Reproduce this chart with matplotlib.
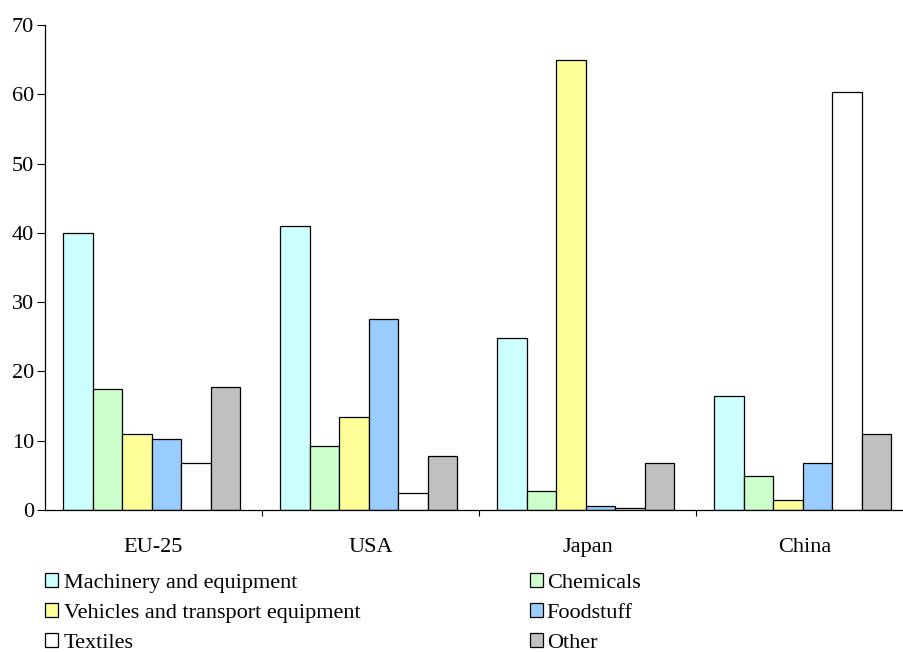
import matplotlib
matplotlib.use("Agg")
import matplotlib.pyplot as plt
from matplotlib.patches import Patch
import numpy as np

plt.rcParams['font.family'] = ['Liberation Serif', 'DejaVu Serif']

regions = ["EU-25", "USA", "Japan", "China"]
series_names = ["Machinery and equipment", "Chemicals", "Vehicles and transport equipment",
                "Foodstuff", "Textiles", "Other"]
machinery = [40.0, 41.0, 24.8, 16.5]
chemicals = [17.4, 9.2, 2.7, 4.9]
vehicles = [10.9, 13.4, 65.0, 1.5]
foodstuff = [10.2, 27.6, 0.6, 6.8]
textiles = [6.8, 2.5, 0.3, 60.3]
other = [17.7, 7.8, 6.8, 10.9]
yticks = [0, 10, 20, 30, 40, 50, 60, 70]

series = [machinery, chemicals, vehicles, foodstuff, textiles, other]
colors = ["#CCFFFF", "#CCFFCC", "#FFFF99", "#99CCFF", "#FFFFFF", "#C0C0C0"]

fig = plt.figure(figsize=(9.04, 6.52), dpi=100)
ax = fig.add_axes([45/904, (652-510)/652, 868/904, 485/652])

x = np.arange(len(regions))
w = 0.136
for i, (vals, c) in enumerate(zip(series, colors)):
    ax.bar(x + (i - 2.5) * w - 0.008, vals, width=w, color=c, edgecolor="black", linewidth=0.9,
           label=series_names[i])

ax.set_xlim(-0.5, 3.5)
ax.set_ylim(0, 70)
ax.set_yticks(yticks)
ax.set_xticks([0.5, 1.5, 2.5])
ax.set_xticklabels([])
ax.set_xticks(x, minor=True)
ax.set_xticklabels(regions, minor=True)
ax.tick_params(axis='x', which='minor', length=0, pad=20, labelsize=16)
ax.tick_params(axis='x', which='major', length=4, width=0.8, direction='out')
ax.tick_params(axis='y', length=6, width=0.8, pad=2, labelsize=16)
for s in ['top', 'right']:
    ax.spines[s].set_visible(False)
for s in ['left', 'bottom']:
    ax.spines[s].set_linewidth(0.9)

handles = [Patch(facecolor=c, edgecolor="black", linewidth=0.9) for c in colors]
common = dict(loc='upper left', frameon=False, fontsize=16, handlelength=0.6, handleheight=0.6,
              labelspacing=0.46, borderpad=0, borderaxespad=0)
leg1 = fig.legend([handles[0], handles[2], handles[4]],
                  [series_names[0], series_names[2], series_names[4]],
                  bbox_to_anchor=(45/904, 1 - 573/652), handletextpad=0.25, **common)
leg2 = fig.legend([handles[1], handles[3], handles[5]],
                  [series_names[1], series_names[3], series_names[5]],
                  bbox_to_anchor=(530/904, 1 - 573/652), handletextpad=0.15, **common)

fig.savefig("out.png", dpi=100)
